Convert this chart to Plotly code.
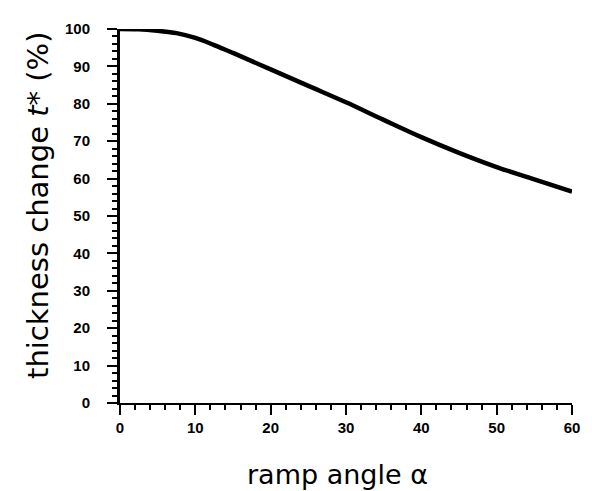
import plotly.graph_objects as go

# data
ramp_angle = [0, 2.5, 5, 7.5, 10, 12.5, 15, 20, 25, 30, 35, 40, 45, 50, 55, 60]
thickness_change = [100, 99.9, 99.5, 98.9, 97.6, 95.7, 93.6, 89.2, 84.8, 80.4, 75.7, 71.1, 66.9, 63.1, 59.8, 56.5]

x_ticks = [0, 10, 20, 30, 40, 50, 60]
y_ticks = [0, 10, 20, 30, 40, 50, 60, 70, 80, 90, 100]

x_title = "ramp angle α"
y_title = "thickness change <i>t</i>* (%)"

fig = go.Figure()
fig.add_trace(go.Scatter(
    x=ramp_angle, y=thickness_change, mode="lines",
    line=dict(color="black", width=4.5, shape="spline"),
    cliponaxis=False, showlegend=False,
))

tick_font = dict(family="Liberation Sans, Arial, sans-serif", size=15, color="black", weight="bold")

fig.update_layout(
    width=592, height=491,
    margin=dict(l=112, r=28, t=14, b=96),
    paper_bgcolor="white", plot_bgcolor="white",
    xaxis=dict(
        range=[0, 60], tickvals=x_ticks, ticktext=[str(v) for v in x_ticks],
        showgrid=False, zeroline=False, showline=True, linecolor="black", linewidth=2,
        ticks="outside", ticklen=10, tickwidth=2, tickcolor="black",
        minor=dict(dtick=2, ticks="outside", ticklen=5, tickwidth=1.5, tickcolor="black"),
        tickfont=tick_font, ticklabelstandoff=0,
    ),
    yaxis=dict(
        range=[0, 100], tickvals=y_ticks, ticktext=[str(v) for v in y_ticks],
        showgrid=False, zeroline=False, showline=True, linecolor="black", linewidth=3,
        ticks="outside", ticklen=10, tickwidth=2, tickcolor="black",
        minor=dict(dtick=2, ticks="outside", ticklen=5, tickwidth=1.5, tickcolor="black"),
        tickfont=tick_font, ticklabelstandoff=14,
    ),
    annotations=[
        dict(text=x_title, xref="paper", yref="paper", x=0.482, y=-0.192,
             xanchor="center", yanchor="middle", showarrow=False,
             font=dict(family="DejaVu Sans, sans-serif", size=27, color="black")),
        dict(text=y_title, xref="paper", yref="paper", x=-0.183, y=0.5276,
             xanchor="center", yanchor="middle", showarrow=False, textangle=-90,
             font=dict(family="DejaVu Sans, sans-serif", size=29, color="black")),
    ],
)

fig.write_html("out.html")
